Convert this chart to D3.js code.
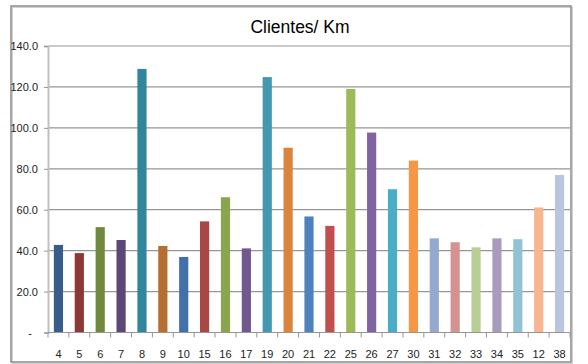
<!DOCTYPE html>
<meta charset="utf-8">
<style>

body {
  margin: 0;
  background: #fff;
}

.tick text {
  font-family: "Liberation Sans Narrow", "Arial Narrow", "Liberation Sans", Arial, sans-serif;
  font-size: 11px;
  fill: #222;
}

</style>
<svg></svg>
<script src="https://cdn.jsdelivr.net/npm/d3@7"></script>
<script>

var categories = ["4","5","6","7","8","9","10","15","16","17","19","20","21","22","25","26","27","30","31","32","33","34","35","12","38"];
var values = [42.8, 38.8, 51.5, 45.2, 128.8, 42.3, 36.9, 54.3, 66.1, 41.1, 124.8, 90.3, 56.7, 52.1, 119.0, 97.7, 70.0, 84.0, 46.0, 44.1, 41.6, 46.0, 45.6, 61.1, 77.0];
var colors = ["#385d8a","#8c3836","#71893f","#5c4776","#31859c","#b66d31","#4170ab","#a94744","#89a54e","#71588f","#4198af","#db843d","#4f81bd","#c0504d","#9bbb59","#8064a2","#4bacc6","#f79646","#95a9d0","#d49390","#b9cd96","#a99bbd","#92c3d4","#f9b590","#b8c6e0"];
var yTicks = [0, 20, 40, 60, 80, 100, 120, 140];

var width = 588,
    height = 364;

var svg = d3.select("svg")
    .attr("width", width)
    .attr("height", height);

// chart frame
svg.append("rect")
    .attr("x", 12.5).attr("y", 7.5)
    .attr("width", 560).attr("height", 356)
    .attr("fill", "none")
    .attr("stroke", "#d0d0d0")
    .attr("stroke-width", 1);
svg.append("rect")
    .attr("x", 11).attr("y", 6)
    .attr("width", 560).attr("height", 356)
    .attr("fill", "none")
    .attr("stroke", "#8a8a8a")
    .attr("stroke-width", 1.5);

var x = d3.scaleBand()
    .domain(categories)
    .range([48, 570])
    .paddingInner(0.56)
    .paddingOuter(0.28);

var y = d3.scaleLinear()
    .domain([0, 140])
    .range([332.5, 46]);

// gridlines
svg.append("g")
  .selectAll("line")
  .data(yTicks.slice(1))
  .enter().append("line")
    .attr("x1", 48).attr("x2", 570)
    .attr("y1", function(d) { return y(d); })
    .attr("y2", function(d) { return y(d); })
    .attr("stroke", "#969696")
    .attr("stroke-width", 1.2);

// bars
svg.append("g")
  .selectAll("rect")
  .data(values)
  .enter().append("rect")
    .attr("x", function(d, i) { return x(categories[i]); })
    .attr("y", function(d) { return y(d); })
    .attr("width", x.bandwidth())
    .attr("height", function(d) { return y(0) - y(d); })
    .attr("fill", function(d, i) { return colors[i]; });

// y axis
var yAxis = svg.append("g")
    .attr("transform", "translate(48,0)")
    .call(d3.axisLeft(y)
      .tickValues(yTicks)
      .tickSize(4)
      .tickPadding(6)
      .tickFormat(function(d) { return d === 0 ? "-" : d3.format(".1f")(d); }));
yAxis.select(".domain").attr("stroke", "#c0c0c0").attr("stroke-width", 2);
yAxis.selectAll(".tick line").attr("stroke", "#969696");
yAxis.selectAll(".tick").filter(function(d) { return d === 0; })
    .select("text").attr("dx", -6);

// x axis
var band = x.step();
var xAxis = svg.append("g")
    .attr("transform", "translate(0," + y(0) + ")");
xAxis.append("line")
    .attr("x1", 48).attr("x2", 570)
    .attr("stroke", "#969696")
    .attr("stroke-width", 1.2);
xAxis.selectAll("line.tk")
  .data(d3.range(categories.length + 1))
  .enter().append("line")
    .attr("class", "tk")
    .attr("x1", function(i) { return 48 + i * band; })
    .attr("x2", function(i) { return 48 + i * band; })
    .attr("y1", 0).attr("y2", 5)
    .attr("stroke", "#969696");
xAxis.selectAll("text")
  .data(categories)
  .enter().append("text")
    .attr("class", "tick")
    .attr("x", function(d) { return x(d) + x.bandwidth() / 2; })
    .attr("y", 25)
    .attr("text-anchor", "middle")
    .style("font-family", "'Liberation Sans Narrow', 'Arial Narrow', 'Liberation Sans', Arial, sans-serif")
    .style("font-size", "11px")
    .attr("fill", "#222")
    .text(function(d) { return d; });

// title
svg.append("text")
    .attr("x", 300)
    .attr("y", 33)
    .attr("text-anchor", "middle")
    .style("font-family", "'Liberation Sans', Arial, sans-serif")
    .style("font-size", "17.5px")
    .attr("fill", "#000")
    .text("Clientes/ Km");

</script>
